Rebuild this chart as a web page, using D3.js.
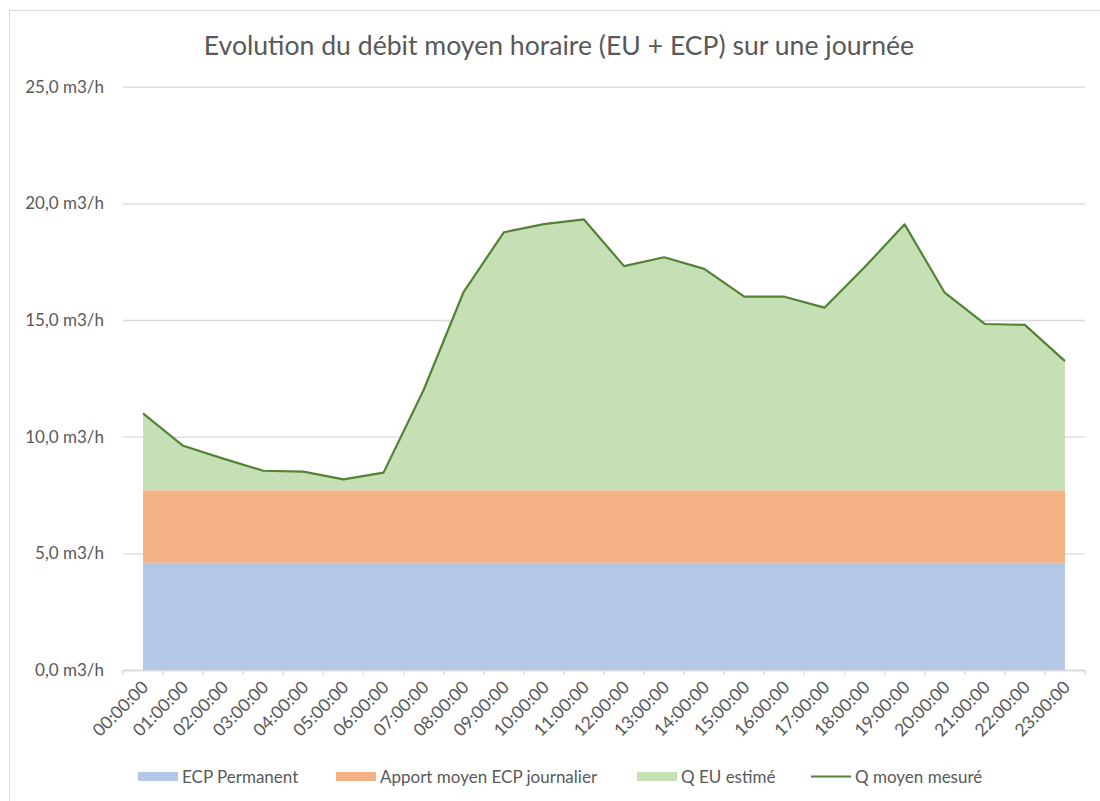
<!DOCTYPE html>
<html>
<head>
<meta charset="utf-8">
<script src="https://cdn.jsdelivr.net/npm/d3@7"></script>
<style>
  html, body { margin: 0; padding: 0; background: #fff; }
  svg { display: block; }
  text { font-family: Lato, "Open Sans", sans-serif; fill: #595959; }
</style>
</head>
<body>
<svg id="chart" width="1100" height="801"></svg>
<script>
// ---- data ----
const hours = ["00:00:00","01:00:00","02:00:00","03:00:00","04:00:00","05:00:00",
  "06:00:00","07:00:00","08:00:00","09:00:00","10:00:00","11:00:00",
  "12:00:00","13:00:00","14:00:00","15:00:00","16:00:00","17:00:00",
  "18:00:00","19:00:00","20:00:00","21:00:00","22:00:00","23:00:00"];
const ecpPermanent = [4.6,4.6,4.6,4.6,4.6,4.6,4.6,4.6,4.6,4.6,4.6,4.6,
  4.6,4.6,4.6,4.6,4.6,4.6,4.6,4.6,4.6,4.6,4.6,4.6];
const apportEcp = [3.1,3.1,3.1,3.1,3.1,3.1,3.1,3.1,3.1,3.1,3.1,3.1,
  3.1,3.1,3.1,3.1,3.1,3.1,3.1,3.1,3.1,3.1,3.1,3.1];
const qEuEstime = [3.30,1.91,1.36,0.84,0.80,0.47,0.76,4.30,8.51,11.06,11.41,11.61,
  9.61,9.99,9.49,8.30,8.30,7.83,9.56,11.40,8.47,7.13,7.09,5.54];
const qMoyenMesure = [11.00,9.61,9.06,8.54,8.50,8.17,8.46,12.00,16.21,18.76,19.11,19.31,
  17.31,17.69,17.19,16.00,16.00,15.53,17.26,19.10,16.17,14.83,14.79,13.24];
const yTicks = [0,5,10,15,20,25];
const seriesNames = ["ECP Permanent","Apport moyen ECP journalier","Q EU estimé","Q moyen mesuré"];
const colors = ["#B4C7E7","#F4B183","#C5E0B4","#548235"];
const title = "Evolution du débit moyen horaire (EU + ECP) sur une journée";

// ---- layout ----
const svg = d3.select("#chart");
const mLeft = 123, mRight = 1085, mTop = 86.7, mBottom = 670;

const x = d3.scaleBand().domain(hours).range([mLeft, mRight]).padding(0);
const xc = h => x(h) + x.bandwidth() / 2;
const y = d3.scaleLinear().domain([0, 25]).range([mBottom, mTop]);

// border
svg.append("rect").attr("x", 9.5).attr("y", 10.5).attr("width", 1100).attr("height", 800)
  .attr("fill", "none").attr("stroke", "#D9D9D9").attr("stroke-width", 1);

// title
svg.append("text").attr("x", 559).attr("y", 55).attr("text-anchor", "middle")
  .style("font-size", "26.6px").text(title);

// gridlines + y labels
const yAxis = d3.axisLeft(y).tickValues(yTicks).tickSize(-(mRight - mLeft)).tickPadding(19)
  .tickFormat(d => d3.format(".1f")(d).replace(".", ",") + " m3/h");
const gy = svg.append("g").attr("transform", `translate(${mLeft},0)`).call(yAxis);
gy.select(".domain").remove();
gy.selectAll(".tick line").attr("stroke", "#D9D9D9").attr("stroke-width", 1.3);
gy.selectAll(".tick text").style("font-size", "17px").style("font-family", "Lato, sans-serif").attr("fill", "#595959");

// stacked data
const table = hours.map((h, i) => ({ h, a: ecpPermanent[i], b: apportEcp[i], c: qEuEstime[i] }));
const stack = d3.stack().keys(["a", "b", "c"])(table);
const area = d3.area().x(d => xc(d.data.h)).y0(d => y(d[0])).y1(d => y(d[1]));
svg.append("g").selectAll("path").data(stack).join("path")
  .attr("d", area).attr("fill", (d, i) => colors[i]);

// line
const line = d3.line().x((d, i) => xc(hours[i])).y(d => y(d));
svg.append("path").datum(qMoyenMesure).attr("d", line)
  .attr("fill", "none").attr("stroke", colors[3]).attr("stroke-width", 2.2)
  .attr("stroke-linejoin", "round");

// x axis
const xAxis = d3.axisBottom(x).tickSize(0).tickFormat("");
const gx = svg.append("g").attr("transform", `translate(0,${mBottom})`).call(xAxis);
gx.select(".domain").attr("stroke", "#D9D9D9").attr("stroke-width", 1.3);
const edges = hours.map(h => x(h)).concat([mRight]);
gx.selectAll(".edge").data(edges).join("line").attr("class", "edge")
  .attr("x1", d => d).attr("x2", d => d).attr("y1", 0).attr("y2", 5)
  .attr("stroke", "#D9D9D9").attr("stroke-width", 1.3);
svg.append("g").selectAll("text").data(hours).join("text")
  .attr("transform", h => `translate(${xc(h) + 2},${mBottom + 14}) rotate(-45)`)
  .attr("text-anchor", "end").attr("dy", "0.35em")
  .style("font-size", "17.5px").text(h => h);

// legend
const legendItems = [
  { name: seriesNames[0], color: colors[0], x: 138, type: "rect" },
  { name: seriesNames[1], color: colors[1], x: 336, type: "rect" },
  { name: seriesNames[2], color: colors[2], x: 637, type: "rect" },
  { name: seriesNames[3], color: colors[3], x: 811, type: "line" }
];
const lg = svg.append("g");
legendItems.forEach(it => {
  if (it.type === "rect") {
    lg.append("rect").attr("x", it.x).attr("y", 772).attr("width", 40).attr("height", 9).attr("fill", it.color);
  } else {
    lg.append("line").attr("x1", it.x).attr("x2", it.x + 40).attr("y1", 776.5).attr("y2", 776.5)
      .attr("stroke", it.color).attr("stroke-width", 2.2);
  }
  lg.append("text").attr("x", it.x + 44).attr("y", 782.5).style("font-size", "17px").text(it.name);
});
</script>
</body>
</html>
